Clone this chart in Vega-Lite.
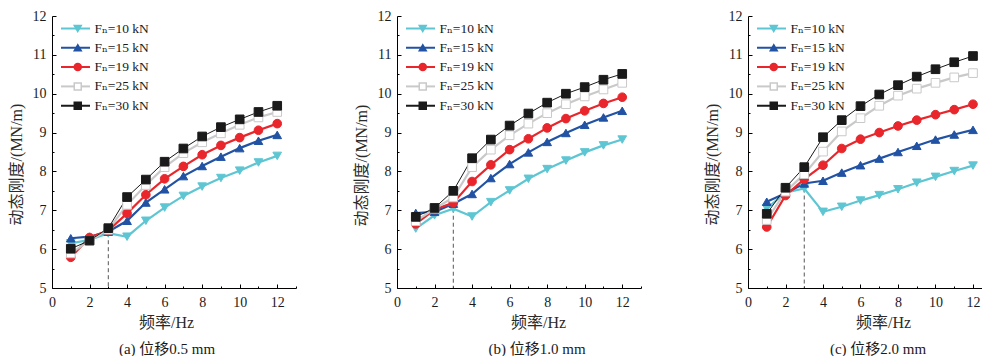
{
  "$schema": "https://vega.github.io/schema/vega-lite/v6.json",
  "padding": {"left": 8, "top": 9, "right": 0, "bottom": 0},
  "background": "white",
  "datasets": {
    "pts": [
      {"p":"a","s":"10","f":1,"k":6.15},{"p":"a","s":"10","f":2,"k":6.24},{"p":"a","s":"10","f":3,"k":6.41},{"p":"a","s":"10","f":4,"k":6.32},{"p":"a","s":"10","f":5,"k":6.73},{"p":"a","s":"10","f":6,"k":7.07},{"p":"a","s":"10","f":7,"k":7.37},{"p":"a","s":"10","f":8,"k":7.61},{"p":"a","s":"10","f":9,"k":7.83},{"p":"a","s":"10","f":10,"k":8.02},{"p":"a","s":"10","f":11,"k":8.23},{"p":"a","s":"10","f":12,"k":8.40},
      {"p":"a","s":"15","f":1,"k":6.28},{"p":"a","s":"15","f":2,"k":6.32},{"p":"a","s":"15","f":3,"k":6.45},{"p":"a","s":"15","f":4,"k":6.73},{"p":"a","s":"15","f":5,"k":7.20},{"p":"a","s":"15","f":6,"k":7.54},{"p":"a","s":"15","f":7,"k":7.88},{"p":"a","s":"15","f":8,"k":8.14},{"p":"a","s":"15","f":9,"k":8.38},{"p":"a","s":"15","f":10,"k":8.60},{"p":"a","s":"15","f":11,"k":8.79},{"p":"a","s":"15","f":12,"k":8.94},
      {"p":"a","s":"19","f":1,"k":5.79},{"p":"a","s":"19","f":2,"k":6.30},{"p":"a","s":"19","f":3,"k":6.48},{"p":"a","s":"19","f":4,"k":6.92},{"p":"a","s":"19","f":5,"k":7.40},{"p":"a","s":"19","f":6,"k":7.81},{"p":"a","s":"19","f":7,"k":8.13},{"p":"a","s":"19","f":8,"k":8.43},{"p":"a","s":"19","f":9,"k":8.67},{"p":"a","s":"19","f":10,"k":8.87},{"p":"a","s":"19","f":11,"k":9.06},{"p":"a","s":"19","f":12,"k":9.23},
      {"p":"a","s":"25","f":1,"k":5.89},{"p":"a","s":"25","f":2,"k":6.22},{"p":"a","s":"25","f":3,"k":6.50},{"p":"a","s":"25","f":4,"k":7.14},{"p":"a","s":"25","f":5,"k":7.65},{"p":"a","s":"25","f":6,"k":8.11},{"p":"a","s":"25","f":7,"k":8.47},{"p":"a","s":"25","f":8,"k":8.75},{"p":"a","s":"25","f":9,"k":8.98},{"p":"a","s":"25","f":10,"k":9.20},{"p":"a","s":"25","f":11,"k":9.39},{"p":"a","s":"25","f":12,"k":9.53},
      {"p":"a","s":"30","f":1,"k":6.01},{"p":"a","s":"30","f":2,"k":6.22},{"p":"a","s":"30","f":3,"k":6.54},{"p":"a","s":"30","f":4,"k":7.34},{"p":"a","s":"30","f":5,"k":7.79},{"p":"a","s":"30","f":6,"k":8.25},{"p":"a","s":"30","f":7,"k":8.59},{"p":"a","s":"30","f":8,"k":8.90},{"p":"a","s":"30","f":9,"k":9.14},{"p":"a","s":"30","f":10,"k":9.34},{"p":"a","s":"30","f":11,"k":9.53},{"p":"a","s":"30","f":12,"k":9.69},
      {"p":"b","s":"10","f":1,"k":6.53},{"p":"b","s":"10","f":2,"k":6.87},{"p":"b","s":"10","f":3,"k":7.04},{"p":"b","s":"10","f":4,"k":6.84},{"p":"b","s":"10","f":5,"k":7.21},{"p":"b","s":"10","f":6,"k":7.51},{"p":"b","s":"10","f":7,"k":7.81},{"p":"b","s":"10","f":8,"k":8.06},{"p":"b","s":"10","f":9,"k":8.28},{"p":"b","s":"10","f":10,"k":8.49},{"p":"b","s":"10","f":11,"k":8.67},{"p":"b","s":"10","f":12,"k":8.82},
      {"p":"b","s":"15","f":1,"k":6.93},{"p":"b","s":"15","f":2,"k":6.96},{"p":"b","s":"15","f":3,"k":7.17},{"p":"b","s":"15","f":4,"k":7.42},{"p":"b","s":"15","f":5,"k":7.83},{"p":"b","s":"15","f":6,"k":8.19},{"p":"b","s":"15","f":7,"k":8.49},{"p":"b","s":"15","f":8,"k":8.76},{"p":"b","s":"15","f":9,"k":8.99},{"p":"b","s":"15","f":10,"k":9.20},{"p":"b","s":"15","f":11,"k":9.39},{"p":"b","s":"15","f":12,"k":9.56},
      {"p":"b","s":"19","f":1,"k":6.65},{"p":"b","s":"19","f":2,"k":7.02},{"p":"b","s":"19","f":3,"k":7.19},{"p":"b","s":"19","f":4,"k":7.74},{"p":"b","s":"19","f":5,"k":8.17},{"p":"b","s":"19","f":6,"k":8.56},{"p":"b","s":"19","f":7,"k":8.84},{"p":"b","s":"19","f":8,"k":9.12},{"p":"b","s":"19","f":9,"k":9.36},{"p":"b","s":"19","f":10,"k":9.56},{"p":"b","s":"19","f":11,"k":9.75},{"p":"b","s":"19","f":12,"k":9.91},
      {"p":"b","s":"25","f":1,"k":6.72},{"p":"b","s":"25","f":2,"k":7.04},{"p":"b","s":"25","f":3,"k":7.33},{"p":"b","s":"25","f":4,"k":8.11},{"p":"b","s":"25","f":5,"k":8.56},{"p":"b","s":"25","f":6,"k":8.93},{"p":"b","s":"25","f":7,"k":9.23},{"p":"b","s":"25","f":8,"k":9.50},{"p":"b","s":"25","f":9,"k":9.73},{"p":"b","s":"25","f":10,"k":9.93},{"p":"b","s":"25","f":11,"k":10.11},{"p":"b","s":"25","f":12,"k":10.28},
      {"p":"b","s":"30","f":1,"k":6.83},{"p":"b","s":"30","f":2,"k":7.06},{"p":"b","s":"30","f":3,"k":7.50},{"p":"b","s":"30","f":4,"k":8.34},{"p":"b","s":"30","f":5,"k":8.82},{"p":"b","s":"30","f":6,"k":9.18},{"p":"b","s":"30","f":7,"k":9.49},{"p":"b","s":"30","f":8,"k":9.77},{"p":"b","s":"30","f":9,"k":10.00},{"p":"b","s":"30","f":10,"k":10.17},{"p":"b","s":"30","f":11,"k":10.36},{"p":"b","s":"30","f":12,"k":10.51},
      {"p":"c","s":"10","f":1,"k":7.05},{"p":"c","s":"10","f":2,"k":7.45},{"p":"c","s":"10","f":3,"k":7.56},{"p":"c","s":"10","f":4,"k":6.96},{"p":"c","s":"10","f":5,"k":7.09},{"p":"c","s":"10","f":6,"k":7.25},{"p":"c","s":"10","f":7,"k":7.39},{"p":"c","s":"10","f":8,"k":7.54},{"p":"c","s":"10","f":9,"k":7.71},{"p":"c","s":"10","f":10,"k":7.86},{"p":"c","s":"10","f":11,"k":8.01},{"p":"c","s":"10","f":12,"k":8.15},
      {"p":"c","s":"15","f":1,"k":7.22},{"p":"c","s":"15","f":2,"k":7.44},{"p":"c","s":"15","f":3,"k":7.69},{"p":"c","s":"15","f":4,"k":7.76},{"p":"c","s":"15","f":5,"k":7.97},{"p":"c","s":"15","f":6,"k":8.16},{"p":"c","s":"15","f":7,"k":8.33},{"p":"c","s":"15","f":8,"k":8.50},{"p":"c","s":"15","f":9,"k":8.66},{"p":"c","s":"15","f":10,"k":8.82},{"p":"c","s":"15","f":11,"k":8.95},{"p":"c","s":"15","f":12,"k":9.07},
      {"p":"c","s":"19","f":1,"k":6.57},{"p":"c","s":"19","f":2,"k":7.38},{"p":"c","s":"19","f":3,"k":7.80},{"p":"c","s":"19","f":4,"k":8.16},{"p":"c","s":"19","f":5,"k":8.59},{"p":"c","s":"19","f":6,"k":8.83},{"p":"c","s":"19","f":7,"k":9.00},{"p":"c","s":"19","f":8,"k":9.17},{"p":"c","s":"19","f":9,"k":9.32},{"p":"c","s":"19","f":10,"k":9.46},{"p":"c","s":"19","f":11,"k":9.59},{"p":"c","s":"19","f":12,"k":9.73},
      {"p":"c","s":"25","f":1,"k":6.75},{"p":"c","s":"25","f":2,"k":7.48},{"p":"c","s":"25","f":3,"k":7.93},{"p":"c","s":"25","f":4,"k":8.51},{"p":"c","s":"25","f":5,"k":9.03},{"p":"c","s":"25","f":6,"k":9.37},{"p":"c","s":"25","f":7,"k":9.69},{"p":"c","s":"25","f":8,"k":9.95},{"p":"c","s":"25","f":9,"k":10.13},{"p":"c","s":"25","f":10,"k":10.28},{"p":"c","s":"25","f":11,"k":10.42},{"p":"c","s":"25","f":12,"k":10.53},
      {"p":"c","s":"30","f":1,"k":6.91},{"p":"c","s":"30","f":2,"k":7.58},{"p":"c","s":"30","f":3,"k":8.11},{"p":"c","s":"30","f":4,"k":8.88},{"p":"c","s":"30","f":5,"k":9.32},{"p":"c","s":"30","f":6,"k":9.68},{"p":"c","s":"30","f":7,"k":9.98},{"p":"c","s":"30","f":8,"k":10.22},{"p":"c","s":"30","f":9,"k":10.44},{"p":"c","s":"30","f":10,"k":10.63},{"p":"c","s":"30","f":11,"k":10.81},{"p":"c","s":"30","f":12,"k":10.97}
    ],
    "guides": [
      {"p":"a","f":3,"k":6.41,"k0":5},
      {"p":"b","f":3,"k":7.04,"k0":5},
      {"p":"c","f":3,"k":7.56,"k0":5}
    ]
  },
  "resolve": {
    "scale": {"x":"independent","y":"independent","color":"independent","fill":"independent","shape":"independent"},
    "legend": {"color":"independent","fill":"independent","shape":"independent"}
  },
  "spacing": 56,
  "hconcat": [
    {
      "width": 244, "height": 272,
      "title": {"text": "(a) 位移0.5 mm", "orient": "bottom", "anchor": "middle", "frame": "group", "dx": -7, "offset": 12},
      "resolve": {"scale": {"color": "independent"}, "legend": {"color": "independent", "fill": "independent", "shape": "independent"}},
      "encoding": {
        "x": {"field": "f", "type": "quantitative", "scale": {"domain": [0, 13], "nice": false, "zero": false},
          "axis": {"values": [0,1,2,3,4,5,6,7,8,9,10,11,12,13], "labelExpr": "datum.value % 2 === 0 ? datum.label : ''",
            "tickSize": {"condition": {"test": "datum.value % 2 === 0", "value": -4}, "value": -2},
            "labelPadding": 11, "title": "频率/Hz", "titleX": 114, "titlePadding": 3}},
        "y": {"field": "k", "type": "quantitative", "scale": {"domain": [5, 12], "nice": false, "zero": false},
          "axis": {"values": [5,5.5,6,6.5,7,7.5,8,8.5,9,9.5,10,10.5,11,11.5,12], "labelExpr": "datum.value % 1 === 0 ? format(datum.value, 'd') : ''",
            "tickSize": {"condition": {"test": "datum.value % 1 === 0", "value": -4}, "value": -2},
            "labelPadding": 10, "title": "动态刚度/(MN/m)", "titleY": 148, "titlePadding": 8}}
      },
      "layer": [
        {"data": {"name": "guides"}, "transform": [{"filter": "datum.p === 'a'"}],
         "mark": {"type": "rule", "color": "#555555", "strokeDash": [4, 3], "strokeWidth": 1},
         "encoding": {"y2": {"field": "k0"}}},
        {"data": {"name": "pts"}, "transform": [{"filter": "datum.p === 'a' && datum.s !== '30'"}],
         "mark": {"type": "line", "strokeWidth": 2.2},
         "encoding": {
           "color": {"field": "s", "type": "nominal", "scale": {"domain": ["10","15","19","25","30"], "range": ["#5ec6d3","#2152a3","#e8262b","#c9c9c9","#1a1a1a"]},
             "legend": {"orient": "none", "legendX": 8, "legendY": 5, "title": null, "padding": 0, "rowPadding": 4.3, "clipHeight": 15, "symbolType": "stroke", "symbolSize": 841, "symbolStrokeWidth": 2, "labelExpr": "''"}}
         }},
        {"data": {"name": "pts"}, "transform": [{"filter": "datum.p === 'a' && datum.s === '30'"}],
         "mark": {"type": "line", "strokeWidth": 1},
         "encoding": {
           "color": {"field": "s", "type": "nominal", "scale": {"domain": ["10","15","19","25","30"], "range": ["#5ec6d3","#2152a3","#e8262b","#c9c9c9","#1a1a1a"]}, "legend": null}
         }},
        {"data": {"name": "pts"}, "transform": [{"filter": "datum.p === 'a'"}],
         "mark": {"type": "point", "filled": false, "size": 75, "strokeWidth": 1, "opacity": 1},
         "encoding": {
           "color": {"field": "s", "type": "nominal", "scale": {"domain": ["10","15","19","25","30"], "range": ["#5ec6d3","#2152a3","#e8262b","#c9c9c9","#1a1a1a"]},
             "legend": {"orient": "none", "legendX": 19, "legendY": 5, "title": null, "padding": 0, "rowPadding": 4.3, "clipHeight": 15, "symbolSize": 49, "labelOffset": 10, "labelExpr": "'Fₙ=' + datum.label + ' kN'"}},
           "fill": {"field": "s", "type": "nominal", "scale": {"domain": ["10","15","19","25","30"], "range": ["#5ec6d3","#2152a3","#e8262b","#ffffff","#1a1a1a"]},
             "legend": {"orient": "none", "legendX": 19, "legendY": 5, "title": null, "padding": 0, "rowPadding": 4.3, "clipHeight": 15, "symbolSize": 49, "labelOffset": 10, "labelExpr": "'Fₙ=' + datum.label + ' kN'"}},
           "shape": {"field": "s", "type": "nominal", "scale": {"domain": ["10","15","19","25","30"], "range": ["triangle-down","triangle-up","circle","square","square"]},
             "legend": {"orient": "none", "legendX": 19, "legendY": 5, "title": null, "padding": 0, "rowPadding": 4.3, "clipHeight": 15, "symbolSize": 49, "labelOffset": 10, "labelExpr": "'Fₙ=' + datum.label + ' kN'"}}
         }}
      ]
    },
    {
      "width": 244, "height": 272,
      "title": {"text": "(b) 位移1.0 mm", "orient": "bottom", "anchor": "middle", "frame": "group", "dx": 18, "offset": 12},
      "resolve": {"scale": {"color": "independent"}, "legend": {"color": "independent", "fill": "independent", "shape": "independent"}},
      "encoding": {
        "x": {"field": "f", "type": "quantitative", "scale": {"domain": [0, 13], "nice": false, "zero": false},
          "axis": {"values": [0,1,2,3,4,5,6,7,8,9,10,11,12,13], "labelExpr": "datum.value % 2 === 0 ? datum.label : (datum.value === 13 ? '00' : '')",
            "labelOpacity": {"condition": {"test": "datum.value === 13", "value": 0}, "value": 1},
            "tickSize": {"condition": {"test": "datum.value % 2 === 0", "value": -4}, "value": -2},
            "labelPadding": 11, "title": "频率/Hz", "titleX": 141, "titlePadding": 3}},
        "y": {"field": "k", "type": "quantitative", "scale": {"domain": [5, 12], "nice": false, "zero": false},
          "axis": {"values": [5,5.5,6,6.5,7,7.5,8,8.5,9,9.5,10,10.5,11,11.5,12], "labelExpr": "datum.value % 1 === 0 ? format(datum.value, 'd') : ''",
            "tickSize": {"condition": {"test": "datum.value % 1 === 0", "value": -4}, "value": -2},
            "labelPadding": 10, "title": "动态刚度/(MN/m)", "titleY": 149, "titlePadding": 8}}
      },
      "layer": [
        {"data": {"name": "guides"}, "transform": [{"filter": "datum.p === 'b'"}],
         "mark": {"type": "rule", "color": "#555555", "strokeDash": [4, 3], "strokeWidth": 1},
         "encoding": {"y2": {"field": "k0"}}},
        {"data": {"name": "pts"}, "transform": [{"filter": "datum.p === 'b' && datum.s !== '30'"}],
         "mark": {"type": "line", "strokeWidth": 2.2},
         "encoding": {
           "color": {"field": "s", "type": "nominal", "scale": {"domain": ["10","15","19","25","30"], "range": ["#5ec6d3","#2152a3","#e8262b","#c9c9c9","#1a1a1a"]},
             "legend": {"orient": "none", "legendX": 8, "legendY": 5, "title": null, "padding": 0, "rowPadding": 4.3, "clipHeight": 15, "symbolType": "stroke", "symbolSize": 841, "symbolStrokeWidth": 2, "labelExpr": "''"}}
         }},
        {"data": {"name": "pts"}, "transform": [{"filter": "datum.p === 'b' && datum.s === '30'"}],
         "mark": {"type": "line", "strokeWidth": 1},
         "encoding": {
           "color": {"field": "s", "type": "nominal", "scale": {"domain": ["10","15","19","25","30"], "range": ["#5ec6d3","#2152a3","#e8262b","#c9c9c9","#1a1a1a"]}, "legend": null}
         }},
        {"data": {"name": "pts"}, "transform": [{"filter": "datum.p === 'b'"}],
         "mark": {"type": "point", "filled": false, "size": 75, "strokeWidth": 1, "opacity": 1},
         "encoding": {
           "color": {"field": "s", "type": "nominal", "scale": {"domain": ["10","15","19","25","30"], "range": ["#5ec6d3","#2152a3","#e8262b","#c9c9c9","#1a1a1a"]},
             "legend": {"orient": "none", "legendX": 19, "legendY": 5, "title": null, "padding": 0, "rowPadding": 4.3, "clipHeight": 15, "symbolSize": 49, "labelOffset": 10, "labelExpr": "'Fₙ=' + datum.label + ' kN'"}},
           "fill": {"field": "s", "type": "nominal", "scale": {"domain": ["10","15","19","25","30"], "range": ["#5ec6d3","#2152a3","#e8262b","#ffffff","#1a1a1a"]},
             "legend": {"orient": "none", "legendX": 19, "legendY": 5, "title": null, "padding": 0, "rowPadding": 4.3, "clipHeight": 15, "symbolSize": 49, "labelOffset": 10, "labelExpr": "'Fₙ=' + datum.label + ' kN'"}},
           "shape": {"field": "s", "type": "nominal", "scale": {"domain": ["10","15","19","25","30"], "range": ["triangle-down","triangle-up","circle","square","square"]},
             "legend": {"orient": "none", "legendX": 19, "legendY": 5, "title": null, "padding": 0, "rowPadding": 4.3, "clipHeight": 15, "symbolSize": 49, "labelOffset": 10, "labelExpr": "'Fₙ=' + datum.label + ' kN'"}}
         }}
      ]
    },
    {
      "width": 234, "height": 272,
      "title": {"text": "(c) 位移2.0 mm", "orient": "bottom", "anchor": "middle", "frame": "group", "dx": 13, "offset": 12},
      "resolve": {"scale": {"color": "independent"}, "legend": {"color": "independent", "fill": "independent", "shape": "independent"}},
      "encoding": {
        "x": {"field": "f", "type": "quantitative", "scale": {"domain": [0, 12.48], "nice": false, "zero": false},
          "axis": {"values": [0,1,2,3,4,5,6,7,8,9,10,11,12], "labelExpr": "datum.value % 2 === 0 ? datum.label : ''",
            "tickSize": {"condition": {"test": "datum.value % 2 === 0", "value": -4}, "value": -2},
            "labelPadding": 11, "title": "频率/Hz", "titleX": 135, "titlePadding": 3}},
        "y": {"field": "k", "type": "quantitative", "scale": {"domain": [5, 12], "nice": false, "zero": false},
          "axis": {"values": [5,5.5,6,6.5,7,7.5,8,8.5,9,9.5,10,10.5,11,11.5,12], "labelExpr": "datum.value % 1 === 0 ? format(datum.value, 'd') : ''",
            "tickSize": {"condition": {"test": "datum.value % 1 === 0", "value": -4}, "value": -2},
            "labelPadding": 10, "title": "动态刚度/(MN/m)", "titleY": 148, "titlePadding": 8}}
      },
      "layer": [
        {"data": {"name": "guides"}, "transform": [{"filter": "datum.p === 'c'"}],
         "mark": {"type": "rule", "color": "#555555", "strokeDash": [4, 3], "strokeWidth": 1},
         "encoding": {"y2": {"field": "k0"}}},
        {"data": {"name": "pts"}, "transform": [{"filter": "datum.p === 'c' && datum.s !== '30'"}],
         "mark": {"type": "line", "strokeWidth": 2.2},
         "encoding": {
           "color": {"field": "s", "type": "nominal", "scale": {"domain": ["10","15","19","25","30"], "range": ["#5ec6d3","#2152a3","#e8262b","#c9c9c9","#1a1a1a"]},
             "legend": {"orient": "none", "legendX": 8, "legendY": 5, "title": null, "padding": 0, "rowPadding": 4.3, "clipHeight": 15, "symbolType": "stroke", "symbolSize": 841, "symbolStrokeWidth": 2, "labelExpr": "''"}}
         }},
        {"data": {"name": "pts"}, "transform": [{"filter": "datum.p === 'c' && datum.s === '30'"}],
         "mark": {"type": "line", "strokeWidth": 1},
         "encoding": {
           "color": {"field": "s", "type": "nominal", "scale": {"domain": ["10","15","19","25","30"], "range": ["#5ec6d3","#2152a3","#e8262b","#c9c9c9","#1a1a1a"]}, "legend": null}
         }},
        {"data": {"name": "pts"}, "transform": [{"filter": "datum.p === 'c'"}],
         "mark": {"type": "point", "filled": false, "size": 75, "strokeWidth": 1, "opacity": 1},
         "encoding": {
           "color": {"field": "s", "type": "nominal", "scale": {"domain": ["10","15","19","25","30"], "range": ["#5ec6d3","#2152a3","#e8262b","#c9c9c9","#1a1a1a"]},
             "legend": {"orient": "none", "legendX": 19, "legendY": 5, "title": null, "padding": 0, "rowPadding": 4.3, "clipHeight": 15, "symbolSize": 49, "labelOffset": 10, "labelExpr": "'Fₙ=' + datum.label + ' kN'"}},
           "fill": {"field": "s", "type": "nominal", "scale": {"domain": ["10","15","19","25","30"], "range": ["#5ec6d3","#2152a3","#e8262b","#ffffff","#1a1a1a"]},
             "legend": {"orient": "none", "legendX": 19, "legendY": 5, "title": null, "padding": 0, "rowPadding": 4.3, "clipHeight": 15, "symbolSize": 49, "labelOffset": 10, "labelExpr": "'Fₙ=' + datum.label + ' kN'"}},
           "shape": {"field": "s", "type": "nominal", "scale": {"domain": ["10","15","19","25","30"], "range": ["triangle-down","triangle-up","circle","square","square"]},
             "legend": {"orient": "none", "legendX": 19, "legendY": 5, "title": null, "padding": 0, "rowPadding": 4.3, "clipHeight": 15, "symbolSize": 49, "labelOffset": 10, "labelExpr": "'Fₙ=' + datum.label + ' kN'"}}
         }}
      ]
    }
  ],
  "config": {
    "view": {"stroke": null},
    "font": "Liberation Serif, Noto Sans CJK SC",
    "axis": {
      "grid": false, "domainColor": "#000000", "domainWidth": 1, "tickColor": "#000000", "tickWidth": 1,
      "labelFont": "Liberation Serif", "labelFontSize": 14, "labelColor": "#1a1a1a", "labelOverlap": false, "labelFlush": false, "labelBound": false,
      "titleFont": "Liberation Serif, Noto Sans CJK SC", "titleFontSize": 16, "titleFontWeight": "normal", "titleColor": "#2a2a2a"
    },
    "title": {"font": "Liberation Serif, Noto Sans CJK SC", "fontSize": 15, "fontWeight": "normal", "color": "#1a1a1a"},
    "legend": {
      "labelFont": "Liberation Serif, DejaVu Serif", "labelFontSize": 13.5, "labelColor": "#1a1a1a"
    }
  }
}
